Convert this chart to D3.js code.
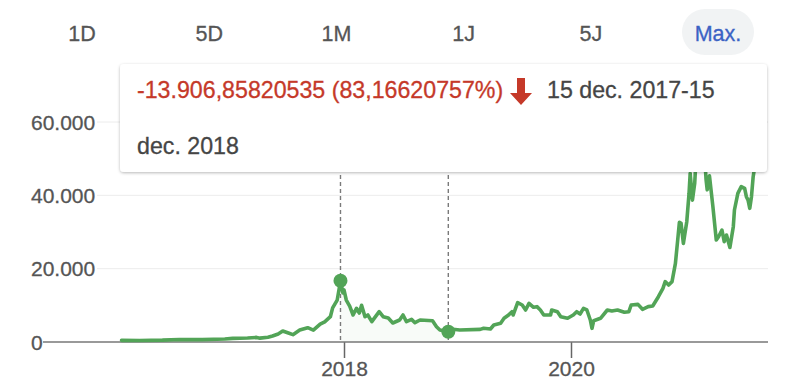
<!DOCTYPE html>
<html>
<head>
<meta charset="utf-8">
<script src="https://cdn.jsdelivr.net/npm/d3@7/dist/d3.min.js"></script>
<style>
  html, body { margin: 0; padding: 0; background: #fff; }
  svg { display: block; font-family: "Liberation Sans", Arial, Helvetica, sans-serif; }
  text { stroke-width: 0.3; paint-order: stroke; }
</style>
</head>
<body>
<svg id="chart" width="800" height="383"></svg>
<script>
// ---- Data ----
const rangeButtons = ["1D", "5D", "1M", "1J", "5J", "Max."];
const activeButton = "Max.";

// time in decimal years, price values
const years = [
  2016.04, 2016.20, 2016.40, 2016.55, 2016.75, 2016.95, 2017.02, 2017.15, 2017.23, 2017.26,
  2017.33, 2017.37, 2017.42, 2017.46, 2017.51, 2017.55, 2017.61, 2017.68, 2017.73, 2017.79,
  2017.83, 2017.88, 2017.90, 2017.94, 2017.96, 2017.969, 2017.99, 2018.00, 2018.02, 2018.05,
  2018.08, 2018.11, 2018.135, 2018.155, 2018.185, 2018.21, 2018.245, 2018.31, 2018.345, 2018.39,
  2018.43, 2018.49, 2018.52, 2018.55, 2018.595, 2018.625, 2018.67, 2018.78, 2018.815, 2018.845,
  2018.919, 2018.96, 2019.02, 2019.20, 2019.23, 2019.29, 2019.32, 2019.38, 2019.41, 2019.45,
  2019.48, 2019.49, 2019.53, 2019.57, 2019.60, 2019.63, 2019.67, 2019.70, 2019.73, 2019.76,
  2019.82, 2019.83, 2019.88, 2019.91, 2019.97, 2020.02, 2020.05, 2020.08, 2020.11, 2020.14,
  2020.17, 2020.185, 2020.20, 2020.26, 2020.32, 2020.36, 2020.41, 2020.47, 2020.51, 2020.53,
  2020.59, 2020.63, 2020.68, 2020.72, 2020.77, 2020.81, 2020.83, 2020.86, 2020.89, 2020.92,
  2020.94, 2020.955, 2020.97, 2020.99, 2021.02, 2021.04, 2021.05, 2021.07, 2021.09, 2021.10,
  2021.12, 2021.14, 2021.16, 2021.175, 2021.18, 2021.19, 2021.20, 2021.22, 2021.25, 2021.28,
  2021.30, 2021.33, 2021.35, 2021.37, 2021.40, 2021.43, 2021.44, 2021.47, 2021.50, 2021.53,
  2021.545, 2021.56, 2021.575, 2021.59, 2021.605, 2021.62
];
const prices = [
  450, 420, 500, 700, 650, 800, 1000, 1100, 1250, 1050,
  1300, 1650, 2200, 3000, 2450, 2000, 3250, 3900, 3250, 4900,
  5500, 6900, 9300, 11400, 15000, 16722, 13400, 14200, 11450, 9800,
  7360, 9200, 7900, 10000, 6900, 7360, 5540, 8270, 6900, 6540,
  5180, 6000, 7360, 5540, 6180, 5270, 6000, 5800, 4180, 3270,
  2815, 3460, 3270, 3450, 3730, 3540, 4640, 5100, 6460, 7360,
  8270, 7360, 10730, 10090, 8730, 10540, 9460, 9640, 8730, 7360,
  7360, 8730, 8270, 6900, 6460, 7360, 8270, 7640, 9180, 8730,
  6000, 3730, 5810, 6460, 8730, 8460, 8730, 8100, 8270, 10090,
  10270, 8920, 9640, 9820, 12350, 14640, 16460, 15550, 16460, 21460,
  27800, 32640, 32350, 26900, 32800, 40500, 46000, 38700, 43300, 49000,
  55000, 60000, 63000, 54000, 49600, 44300, 41500, 45300, 37000, 27800,
  28700, 30540, 27360, 29180, 25800, 31450, 36000, 40540, 42370, 41900,
  39630, 38700, 36450, 39630, 45080, 48000
];

const yTicks = [0, 20000, 40000, 60000];
const yTickLabels = ["0", "20.000", "40.000", "60.000"];
const xTicks = [2018, 2020];
const xTickLabels = ["2018", "2020"];

// selected range
const selStart = 2017.969, selStartValue = 16722;
const selEnd = 2018.919, selEndValue = 2815;
const changeText = "-13.906,85820535 (83,16620757%)";
const dateLine1 = "15 dec. 2017-15";
const dateLine2 = "dec. 2018";

// ---- Drawing ----
const svg = d3.select("#chart");
const green = "#52a457";
const data = years.map((t, i) => ({ t, v: prices[i] }));

const x = d3.scaleLinear().domain([2018, 2020]).range([344, 571]);
const y = d3.scaleLinear().domain([0, 60000]).range([342, 122]);

const defs = svg.append("defs");
const f = defs.append("filter").attr("id", "shadow").attr("x", "-5%").attr("y", "-10%").attr("width", "110%").attr("height", "130%");
f.append("feDropShadow").attr("dx", 0).attr("dy", 1).attr("stdDeviation", 1.6)
  .attr("flood-color", "#000").attr("flood-opacity", 0.28);

// range buttons
const btnX = d3.scalePoint().domain(rangeButtons).range([82, 718]);
svg.append("rect").attr("x", btnX(activeButton) - 36).attr("y", 9).attr("width", 72).attr("height", 46)
  .attr("rx", 23).attr("fill", "#f1f3f4");
svg.selectAll("text.btn").data(rangeButtons).enter().append("text")
  .attr("class", "btn")
  .attr("x", d => btnX(d)).attr("y", 34)
  .attr("text-anchor", "middle").attr("dominant-baseline", "central")
  .attr("font-size", 21.5)
  .attr("fill", d => d === activeButton ? "#3b62c4" : "#555")
  .attr("stroke", d => d === activeButton ? "#3b62c4" : "#555")
  .text(d => d);

// gridlines
svg.selectAll("line.grid").data(yTicks.filter(d => d > 0)).enter().append("line")
  .attr("x1", 97).attr("x2", 768)
  .attr("y1", d => y(d)).attr("y2", d => y(d))
  .attr("stroke", "#ececec").attr("stroke-width", 1);

// y labels
svg.selectAll("text.ylab").data(yTicks).enter().append("text")
  .attr("x", 31).attr("y", d => y(d))
  .attr("dominant-baseline", "central")
  .attr("font-size", 21).attr("fill", "#555").attr("stroke", "#555")
  .text((d, i) => yTickLabels[i]);

// selection area
const sel = data.filter(d => d.t >= selStart && d.t <= selEnd);
svg.append("path").datum(sel)
  .attr("d", d3.area().x(d => x(d.t)).y0(y(0)).y1(d => y(d.v)))
  .attr("fill", "#52a457").attr("fill-opacity", 0.04);

// dashed guides
[selStart, selEnd].forEach(t => {
  svg.append("line").attr("x1", x(t)).attr("x2", x(t)).attr("y1", 70).attr("y2", y(0))
    .attr("stroke", "#7a7a7a").attr("stroke-width", 1.4).attr("stroke-dasharray", "4,3");
});

// x axis
const xAxis = d3.axisBottom(x).tickValues(xTicks).tickSize(16).tickFormat((d, i) => xTickLabels[i]);
const gx = svg.append("g").attr("transform", `translate(0,${y(0)})`).call(xAxis);
gx.select(".domain").remove();
gx.selectAll(".tick line").attr("stroke", "#666").attr("stroke-width", 1.5);
gx.selectAll(".tick text").attr("font-size", 21).attr("fill", "#555").attr("stroke", "#555")
  .attr("font-family", "Liberation Sans, Arial, sans-serif").attr("y", 19);
svg.append("line").attr("x1", 43).attr("x2", 768).attr("y1", y(0)).attr("y2", y(0))
  .attr("stroke", "#777").attr("stroke-width", 1.5);

// price line
svg.append("path").datum(data)
  .attr("d", d3.line().x(d => x(d.t)).y(d => y(d.v)))
  .attr("fill", "none").attr("stroke", green).attr("stroke-width", 3.6)
  .attr("stroke-linejoin", "round").attr("stroke-linecap", "round");

// markers
[[selStart, selStartValue], [selEnd, selEndValue]].forEach(([t, v]) => {
  svg.append("circle").attr("cx", x(t)).attr("cy", y(v)).attr("r", 7).attr("fill", green);
});

// tooltip
const tip = svg.append("g");
tip.append("rect").attr("x", 120).attr("y", 64).attr("width", 647).attr("height", 108)
  .attr("rx", 4).attr("fill", "#fff").attr("filter", "url(#shadow)");
tip.append("text").attr("x", 137).attr("y", 90).attr("dominant-baseline", "central")
  .attr("font-size", 23.2).attr("fill", "#c53929").attr("stroke", "#c53929").text(changeText);
tip.append("path")
  .attr("d", "M517,78 L525,78 L525,93 L532,93 L521,105 L510,93 L517,93 Z")
  .attr("fill", "#c53929");
tip.append("text").attr("x", 547).attr("y", 90).attr("dominant-baseline", "central")
  .attr("font-size", 23.2).attr("fill", "#454545").attr("stroke", "#454545").text(dateLine1);
tip.append("text").attr("x", 137).attr("y", 146).attr("dominant-baseline", "central")
  .attr("font-size", 23.2).attr("fill", "#454545").attr("stroke", "#454545").text(dateLine2);
</script>
</body>
</html>
